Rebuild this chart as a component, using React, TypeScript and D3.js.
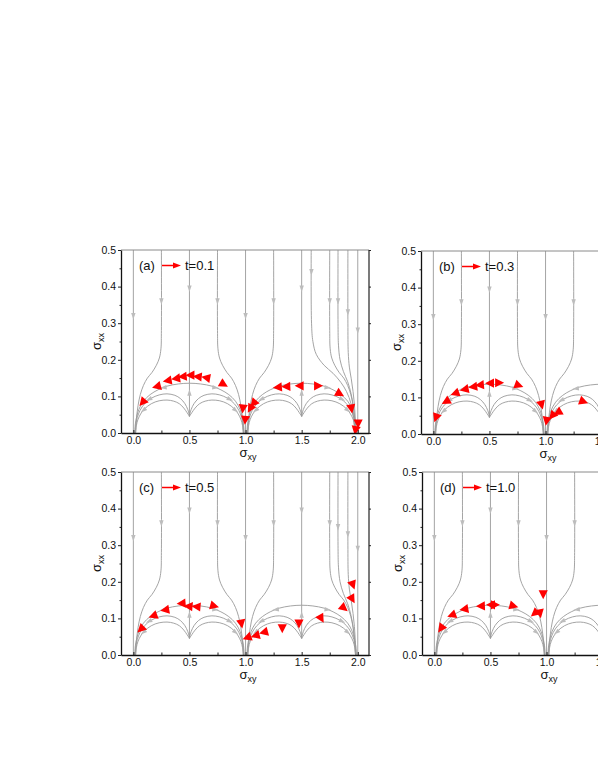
import React, { useEffect, useRef } from 'react';
import * as d3 from 'd3';

type Pt = [number, number];
type Mark = [number, number, number]; // x, y, direction in degrees (screen, 0 = right, 90 = down)

// axis ticks
const xTicks = [0, 0.5, 1.0, 1.5, 2.0];
const xMinor = [0.25, 0.75, 1.25, 1.75];
const yTicks = [0, 0.1, 0.2, 0.3, 0.4, 0.5];
const yMinor = [0.05, 0.15, 0.25, 0.35, 0.45];

const panelLabels = ['(a)', '(b)', '(c)', '(d)'];
const panelTimes = ['t=0.1', 't=0.3', 't=0.5', 't=1.0'];

// flow lines of one unit cell (0..1), repeated in every cell
const bendLeft: Pt[] = [[0.25, 0.5], [0.25, 0.28], [0.246, 0.23], [0.232, 0.205], [0.205, 0.185], [0.165, 0.165], [0.125, 0.15], [0.09, 0.13], [0.062, 0.105], [0.042, 0.075], [0.028, 0.04], [0.02, 0]];
const bendRight: Pt[] = [[0.75, 0.5], [0.75, 0.28], [0.754, 0.23], [0.768, 0.205], [0.795, 0.185], [0.835, 0.165], [0.875, 0.15], [0.91, 0.13], [0.938, 0.105], [0.958, 0.075], [0.972, 0.04], [0.98, 0]];
const archOuter: Pt[] = [[0.012, 0], [0.018, 0.025], [0.03, 0.045], [0.05, 0.065], [0.09, 0.087], [0.15, 0.105], [0.22, 0.118], [0.3, 0.128], [0.4, 0.134], [0.5, 0.136], [0.6, 0.134], [0.7, 0.128], [0.78, 0.118], [0.85, 0.105], [0.91, 0.087], [0.95, 0.065], [0.97, 0.045], [0.982, 0.025], [0.988, 0]];
const archMidL: Pt[] = [[0.016, 0], [0.022, 0.022], [0.035, 0.042], [0.06, 0.062], [0.1, 0.08], [0.16, 0.095], [0.23, 0.104], [0.3, 0.107], [0.37, 0.103], [0.42, 0.094], [0.46, 0.08], [0.485, 0.064], [0.497, 0.052], [0.5, 0.046]];
const archMidR: Pt[] = [[0.984, 0], [0.978, 0.022], [0.965, 0.042], [0.94, 0.062], [0.9, 0.08], [0.84, 0.095], [0.77, 0.104], [0.7, 0.107], [0.63, 0.103], [0.58, 0.094], [0.54, 0.08], [0.515, 0.064], [0.503, 0.052], [0.5, 0.046]];
const archInL: Pt[] = [[0.02, 0], [0.027, 0.02], [0.04, 0.036], [0.065, 0.052], [0.1, 0.066], [0.16, 0.08], [0.23, 0.088], [0.3, 0.09], [0.36, 0.087], [0.41, 0.08], [0.45, 0.068], [0.478, 0.056], [0.495, 0.048], [0.5, 0.045]];
const archInR: Pt[] = [[0.98, 0], [0.973, 0.02], [0.96, 0.036], [0.935, 0.052], [0.9, 0.066], [0.84, 0.08], [0.77, 0.088], [0.7, 0.09], [0.64, 0.087], [0.59, 0.08], [0.55, 0.068], [0.522, 0.056], [0.505, 0.048], [0.5, 0.045]];
const midTop: Pt[] = [[0.5, 0.5], [0.5, 0.136]];
const midLow: Pt[] = [[0.5, 0.045], [0.5, 0.136]];
const edge: Pt[] = [[0, 0.5], [0, 0]];
const cellLines = [bendLeft, bendRight, archOuter, archMidL, archMidR, archInL, archInR, midTop, midLow, edge];
const cellArrows: Mark[] = [
  [0, 0.32, 90], [0.25, 0.36, 90], [0.5, 0.395, 90], [0.75, 0.36, 90],
  [0.5, 0.11, -90], [0.27, 0.124, 172], [0.73, 0.124, 8],
  [0.14, 0.092, 155], [0.86, 0.092, 25], [0.09, 0.062, 140], [0.91, 0.062, 40],
];
const cells = [0, 1];
const lastEdge: Pt[] = [[2, 0.5], [2, 0]];

// extra lines flowing into sigma_xy = 2 (panels a, c)
const extra158: Pt[] = [[1.585, 0.5], [1.588, 0.3], [1.6, 0.25], [1.63, 0.215], [1.7, 0.185], [1.78, 0.163], [1.85, 0.138], [1.9, 0.113], [1.94, 0.08], [1.962, 0.04], [1.972, 0]];
const extra182: Pt[] = [[1.824, 0.5], [1.824, 0.3], [1.828, 0.24], [1.842, 0.2], [1.872, 0.168], [1.91, 0.14], [1.94, 0.108], [1.96, 0.073], [1.972, 0.038], [1.98, 0]];
const extra191: Pt[] = [[1.912, 0.5], [1.912, 0.3], [1.915, 0.22], [1.925, 0.18], [1.942, 0.148], [1.958, 0.113], [1.97, 0.078], [1.978, 0.04], [1.984, 0]];
const extraLines: Pt[][][] = [[extra158, extra182, extra191], [], [extra182, extra191], []];
const extraArrows: Mark[][] = [
  [[1.587, 0.44, 90], [1.824, 0.36, 90], [1.912, 0.33, 90], [2, 0.28, 90]],
  [],
  [[1.824, 0.35, 90], [1.912, 0.33, 90], [2, 0.29, 90]],
  [],
];

// red trajectory arrows
const redA: Mark[] = [
  [0.083, 0.084, 130], [0.21, 0.127, 165], [0.306, 0.143, 170], [0.381, 0.149, 172], [0.44, 0.154, 175],
  [0.509, 0.158, 180], [0.574, 0.154, 185], [0.649, 0.151, 190], [0.804, 0.133, 30], [0.976, 0.067, 95],
  [0.997, 0.036, 95], [1.042, 0.067, 120], [1.071, 0.081, 130], [1.288, 0.125, 175], [1.363, 0.127, 178],
  [1.482, 0.129, 180], [1.646, 0.129, 0], [1.839, 0.107, 30], [1.943, 0.067, 80], [2.003, 0.026, 90], [1.98, 0.008, 100],
];
const redB: Mark[] = [
  [0.024, 0.045, 110], [0.114, 0.089, 150], [0.195, 0.111, 160], [0.279, 0.122, 168], [0.355, 0.129, 172],
  [0.415, 0.134, 175], [0.505, 0.139, 180], [0.586, 0.14, 0], [0.76, 0.133, 20], [0.964, 0.08, 75],
  [1.009, 0.036, 100], [1.06, 0.05, 130], [1.11, 0.059, 150], [1.337, 0.089, 20],
];
const redC: Mark[] = [
  [0.068, 0.071, 135], [0.178, 0.107, 160], [0.284, 0.123, 170], [0.43, 0.141, 175], [0.492, 0.133, 185],
  [0.563, 0.132, 185], [0.72, 0.134, 15], [0.963, 0.086, 80], [1.016, 0.048, 160], [1.09, 0.053, 165],
  [1.164, 0.062, 165], [1.327, 0.073, 90], [1.476, 0.086, 90], [1.674, 0.1, 60], [1.876, 0.128, 40],
  [1.95, 0.153, 60], [1.956, 0.192, 70],
];
const redD: Mark[] = [
  [0.06, 0.073, 125], [0.157, 0.109, 160], [0.267, 0.125, 170], [0.415, 0.134, 178], [0.505, 0.137, 180],
  [0.54, 0.137, 0], [0.705, 0.134, 15], [0.894, 0.114, 140], [0.941, 0.114, 80], [0.97, 0.166, 90],
];
const redMarks = [redA, redB, redC, redD];

// layout
const boxes = [
  { left: 121, top: 250 },
  { left: 421, top: 251 },
  { left: 121, top: 472 },
  { left: 422, top: 472 },
];
const plotW = 248;
const plotH = 183;
const FONT = "'Liberation Sans', Arial, sans-serif";
const LINE_GRAY = '#9a9a9a';
const ARROW_GRAY = '#bdbdbd';
const RED = '#ff0000';

const App = () => {
  const ref = useRef<SVGSVGElement>(null);

  useEffect(() => {
    const svg = d3.select(ref.current);
    svg.selectAll('*').remove();

    boxes.forEach((box, i) => {
      const x = d3.scaleLinear().domain([-0.11, 2.1]).range([box.left, box.left + plotW]);
      const y = d3.scaleLinear().domain([0, 0.5]).range([box.top + plotH, box.top]);
      const line = d3.line<Pt>().x(d => x(d[0])).y(d => y(d[1])).curve(d3.curveCatmullRom.alpha(0.5));

      const clipId = `clip-${i}`;
      svg.append('clipPath').attr('id', clipId)
        .append('rect').attr('x', box.left).attr('y', box.top).attr('width', plotW).attr('height', plotH);

      const g = svg.append('g');
      const plot = g.append('g').attr('clip-path', `url(#${clipId})`);

      // gray flow lines
      const allLines: Pt[][] = [];
      cells.forEach(off => cellLines.forEach(l => allLines.push(l.map(([a, b]) => [a + off, b] as Pt))));
      allLines.push(lastEdge);
      extraLines[i].forEach(l => allLines.push(l));

      plot.selectAll('path.flow')
        .data(allLines)
        .enter()
        .append('path')
        .attr('class', 'flow')
        .attr('d', d => line(d))
        .attr('fill', 'none')
        .attr('stroke', LINE_GRAY)
        .attr('stroke-width', 0.9);

      // gray arrowheads
      const arrows: Mark[] = [];
      cells.forEach(off => cellArrows.forEach(([a, b, r]) => arrows.push([a + off, b, r])));
      extraArrows[i].forEach(m => arrows.push(m));
      plot.selectAll('path.garrow')
        .data(arrows)
        .enter()
        .append('path')
        .attr('class', 'garrow')
        .attr('d', 'M3.5,0 L-3,-2.2 L-3,2.2 Z')
        .attr('fill', ARROW_GRAY)
        .attr('transform', d => `translate(${x(d[0])},${y(d[1])}) rotate(${d[2]})`);

      // red trajectory arrows
      plot.selectAll('path.red')
        .data(redMarks[i])
        .enter()
        .append('path')
        .attr('class', 'red')
        .attr('d', 'M5,0 L-4,-4.6 L-4,4.6 Z')
        .attr('fill', RED)
        .attr('transform', d => `translate(${x(d[0])},${y(d[1])}) rotate(${d[2]})`);

      // frame: top (gray) and right (dark)
      g.append('line').attr('x1', box.left).attr('x2', box.left + plotW)
        .attr('y1', box.top).attr('y2', box.top).attr('stroke', '#8a8a8a').attr('stroke-width', 1);
      g.append('line').attr('x1', box.left + plotW).attr('x2', box.left + plotW)
        .attr('y1', box.top).attr('y2', box.top + plotH).attr('stroke', '#222').attr('stroke-width', 1.2);

      // axes
      const yAxis = g.append('g').attr('transform', `translate(${box.left},0)`)
        .call(d3.axisLeft(y).tickValues(yTicks).tickFormat(d3.format('.1f')).tickSizeInner(3).tickSizeOuter(0).tickPadding(2));
      g.append('g').attr('transform', `translate(${box.left},0)`)
        .call(d3.axisLeft(y).tickValues(yMinor).tickFormat(() => '').tickSizeInner(1.5).tickSizeOuter(0))
        .select('.domain').remove();
      const xAxis = g.append('g').attr('transform', `translate(0,${box.top + plotH})`)
        .call(d3.axisBottom(x).tickValues(xTicks).tickFormat(d3.format('.1f')).tickSizeInner(-3).tickSizeOuter(0).tickPadding(4));
      g.append('g').attr('transform', `translate(0,${box.top + plotH})`)
        .call(d3.axisBottom(x).tickValues(xMinor).tickFormat(() => '').tickSizeInner(-2.5).tickSizeOuter(0))
        .select('.domain').remove();
      // right side mirrored ticks
      g.append('g').attr('transform', `translate(${box.left + plotW},0)`)
        .call(d3.axisRight(y).tickValues(yTicks).tickFormat(() => '').tickSizeInner(2).tickSizeOuter(0))
        .select('.domain').remove();

      [yAxis, xAxis].forEach(ax => {
        ax.select('.domain').attr('stroke', '#111').attr('stroke-width', 1.3);
        ax.selectAll('text').attr('font-family', FONT).attr('font-size', 10.5).attr('fill', '#111');
      });
      svg.selectAll('.tick line').attr('stroke', '#222');

      // axis titles
      const xt = g.append('text')
        .attr('x', box.left + plotW / 2 + 3)
        .attr('y', box.top + plotH + 24)
        .attr('text-anchor', 'middle')
        .attr('font-family', FONT)
        .attr('font-size', 13)
        .attr('fill', '#111');
      xt.append('tspan').text('σ');
      xt.append('tspan').attr('font-size', 9).attr('dy', 3).text('xy');

      const yt = g.append('text')
        .attr('transform', `translate(${box.left - 20},${box.top + plotH / 2}) rotate(-90)`)
        .attr('text-anchor', 'middle')
        .attr('font-family', FONT)
        .attr('font-size', 13)
        .attr('fill', '#111');
      yt.append('tspan').text('σ');
      yt.append('tspan').attr('font-size', 9).attr('dy', 3).text('xx');

      // panel label and legend
      g.append('text')
        .attr('x', box.left + 18)
        .attr('y', box.top + 20)
        .attr('font-family', FONT)
        .attr('font-size', 13)
        .attr('fill', '#111')
        .text(panelLabels[i]);
      g.append('line')
        .attr('x1', box.left + 41).attr('x2', box.left + 55)
        .attr('y1', box.top + 15.5).attr('y2', box.top + 15.5)
        .attr('stroke', RED).attr('stroke-width', 1.5);
      g.append('path')
        .attr('d', 'M4,0 L-4,-3 L-4,3 Z')
        .attr('fill', RED)
        .attr('transform', `translate(${box.left + 56},${box.top + 15.5})`);
      g.append('text')
        .attr('x', box.left + 64)
        .attr('y', box.top + 20)
        .attr('font-family', FONT)
        .attr('font-size', 13)
        .attr('fill', '#111')
        .text(panelTimes[i]);
    });
  }, []);

  return (
    <svg ref={ref} width={598} height={774}
      style={{ position: 'absolute', left: 0, top: 0, background: '#fff' }} />
  );
};

export default App;
